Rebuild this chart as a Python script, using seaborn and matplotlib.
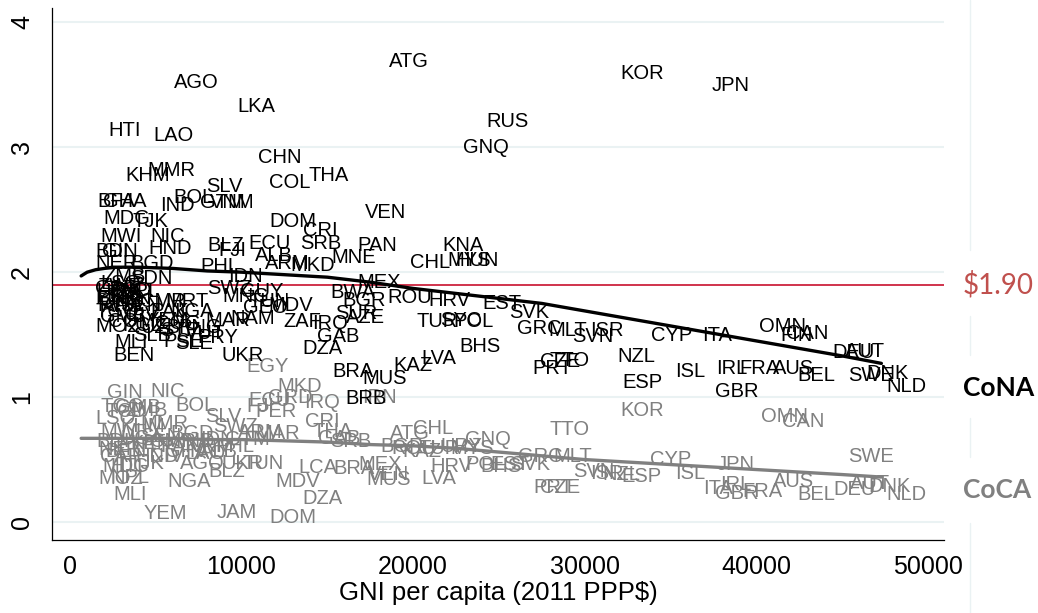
import matplotlib
matplotlib.use("Agg")
import matplotlib.pyplot as plt
import seaborn as sns
import pandas as pd
from matplotlib.lines import Line2D

# ---------------- data ----------------
cona_code = ["ATG", "AGO", "KOR", "JPN", "LKA", "HTI", "LAO", "RUS", "GNQ", "CHN",
             "THA", "COL", "KHM", "MMR", "SLV", "BOL", "IND", "GTM", "VNM", "BFA",
             "GHA", "MDG", "TJK", "MWI", "NIC", "BDI", "GIN", "HND", "NER", "BGD",
             "PHL", "BLZ", "FJI", "ECU", "DOM", "CRI", "SRB", "ALB", "ARM", "MKD",
             "MNE", "VEN", "PAN", "KNA", "CHL", "MYS", "HUN", "IDN", "SWZ", "MNG",
             "GUY", "TUN", "BWA", "MEX", "ROU", "BGR", "HRV", "EST", "SVK", "TUR",
             "SYC", "POL", "GRC", "MLT", "SVN", "ISR", "CYP", "ITA", "OMN", "CAN",
             "FIN", "DEU", "AUT", "DNK", "SWE", "NLD", "BEL", "AUS", "FRA", "IRL",
             "GBR", "ISL", "ESP", "NZL", "TTO", "CZE", "PRT", "BHS", "LVA", "KAZ",
             "MUS", "BRA", "BRB", "DZA", "GAB", "IRQ", "ZAF", "AZE", "SUR", "MDV",
             "UKR", "PSE", "SLE", "PRY", "MLI", "BEN", "NAM", "MAR", "GEO",
             "ZMB", "SDN", "LSO", "UGA", "TZA", "ETH", "KEN", "RWA", "SEN", "CMR",
             "CIV", "TGO", "GMB", "ZWE", "COM", "MOZ", "YEM", "PAK", "NGA", "COG",
             "LBR", "AFG", "KGZ", "UZB", "STP", "SLB", "CAF", "TCD", "GNB", "MRT",
             "NPL", "PNG", "VUT"]
cona_gni = [18370, 5830, 31840, 37150, 9510, 1980, 4610, 24030, 22690, 10730,
            13650, 11370, 2970, 4260, 7700, 5770, 5020, 7350, 7930, 1340,
            1690, 1690, 3380, 1520, 4430, 1230, 1630, 4320, 1230, 3270,
            7350, 7760, 8400, 10150, 11370, 13360, 13180, 10560, 11140, 12600,
            14990, 16970, 16510, 21460, 19600, 21750, 22220, 8980, 7760, 8630,
            9680, 10150, 14930, 16510, 18250, 15630, 20650, 23800, 25370, 19950,
            21350, 22100, 25840, 27640, 29040, 30090, 33650, 36630, 39950, 41470,
            41170, 44210, 44960, 46190, 45140, 47360, 42170, 40710, 38780, 37440,
            37330, 35050, 31960, 31670, 27700, 27180, 26710, 22450, 20240, 18600,
            16800, 15050, 15810, 13300, 14170, 13880, 12190, 15860, 15220, 11310,
            8570, 5190, 5890, 7170, 2330, 2270, 9100, 7640, 9860,
            1690, 3270, 1520, 1280, 1810, 1230, 2100, 1340, 2680, 3850,
            2970, 1230, 1520, 1340, 1980, 1230, 4140, 4430, 5600, 4720,
            1280, 1630, 2800, 3850, 5020, 3440, 1230, 2100, 1520, 5310,
            2680, 6070, 6470]
cona_val = [3.70, 3.53, 3.60, 3.51, 3.34, 3.15, 3.11, 3.22, 3.01, 2.93,
            2.79, 2.73, 2.79, 2.83, 2.70, 2.61, 2.55, 2.57, 2.57, 2.58,
            2.58, 2.44, 2.42, 2.30, 2.30, 2.18, 2.18, 2.20, 2.08, 2.08,
            2.06, 2.23, 2.19, 2.24, 2.42, 2.35, 2.24, 2.15, 2.08, 2.07,
            2.13, 2.49, 2.23, 2.23, 2.09, 2.11, 2.11, 1.98, 1.88, 1.82,
            1.86, 1.78, 1.85, 1.93, 1.81, 1.79, 1.79, 1.76, 1.69, 1.62,
            1.63, 1.62, 1.56, 1.55, 1.50, 1.55, 1.51, 1.51, 1.58, 1.52,
            1.51, 1.37, 1.38, 1.20, 1.19, 1.10, 1.19, 1.24, 1.24, 1.24,
            1.06, 1.22, 1.13, 1.34, 1.31, 1.30, 1.24, 1.42, 1.32, 1.27,
            1.16, 1.22, 1.00, 1.40, 1.50, 1.60, 1.62, 1.65, 1.68, 1.75,
            1.35, 1.46, 1.44, 1.49, 1.45, 1.35, 1.64, 1.63, 1.73,
            1.98, 1.96, 1.92, 1.86, 1.84, 1.80, 1.80, 1.75, 1.75, 1.78,
            1.67, 1.70, 1.66, 1.90, 1.62, 1.58, 1.63, 1.70, 1.70, 1.60,
            1.82, 1.74, 1.59, 1.57, 1.55, 1.51, 1.88, 1.87, 1.78, 1.78,
            1.86, 1.57, 1.52]

coca_code = ["EGY", "GIN", "NIC", "MKD", "GRD", "IRQ", "IRN", "BOL", "TGO", "GMB",
             "SLV", "FJI", "ECU", "PER", "SWZ", "ARM", "MAR", "CRI", "THA", "GAB",
             "SRB", "ATG", "CHL", "GNQ", "TTO", "KOR", "OMN", "CAN", "SWE", "CYP",
             "JPN", "ISL", "ITA", "IRL", "GBR", "FRA", "AUS", "BEL", "DEU", "AUT",
             "DNK", "NLD", "ESP", "SVN", "ISR", "NZL", "GRC", "MLT", "SVK", "PRT",
             "CZE", "POL", "BHS", "EST", "HRV", "LVA", "MUS", "VEN", "MEX", "BRA",
             "ROU", "KAZ", "TUR", "MYS", "URY", "BGR", "LCA", "MDV", "DZA", "DOM",
             "JAM", "YEM", "MLI", "MOZ", "NPL", "NGA", "BLZ", "TUN", "UKR", "AGO",
             "ALB", "LSO", "TCD", "ZMB", "MWI", "BDI", "NER", "CAF", "BEN", "ETH",
             "UGA", "KEN", "SEN", "CMR", "PAK", "BGD", "IND", "VNM", "IDN", "PHL",
             "GTM", "HND", "CIV", "GHA", "LAO", "KHM", "MMR", "HTI", "TJK", "MDG"]
coca_gni = [10030, 1930, 4430, 11840, 11310, 13410, 16800, 5890, 1520, 2390,
            7640, 10030, 10150, 10560, 8110, 9560, 10560, 13470, 13880, 14230,
            14930, 18430, 19770, 22800, 27700, 31840, 40010, 41290, 45140, 33590,
            37440, 35050, 36680, 37680, 37330, 38960, 40710, 42170, 44270, 45200,
            46310, 47360, 31900, 29100, 30090, 30790, 25890, 27940, 25430, 26770,
            27180, 22800, 23680, 24260, 20760, 20240, 17030, 17150, 16560, 15100,
            18490, 19130, 20060, 21930, 21350, 17850, 13060, 11720, 13300, 11370,
            8280, 4020, 2270, 1400, 2100, 5420, 7820, 9800, 8570, 6180,
            7350, 1230, 1810, 2970, 1520, 1280, 1400, 1520, 1810, 2390,
            2680, 3270, 3850, 4430, 5020, 5600, 6180, 6770, 7350, 8220,
            8810, 3560, 4430, 5310, 6470, 2680, 3850, 2100, 3150, 1630]
coca_val = [1.26, 1.05, 1.06, 1.10, 1.01, 0.97, 1.01, 0.95, 0.94, 0.93,
            0.86, 0.94, 0.99, 0.90, 0.78, 0.73, 0.72, 0.82, 0.74, 0.68,
            0.66, 0.72, 0.76, 0.67, 0.75, 0.91, 0.86, 0.82, 0.54, 0.51,
            0.47, 0.40, 0.28, 0.31, 0.24, 0.26, 0.34, 0.23, 0.27, 0.32,
            0.30, 0.23, 0.38, 0.42, 0.40, 0.39, 0.54, 0.54, 0.47, 0.29,
            0.29, 0.47, 0.46, 0.47, 0.46, 0.36, 0.35, 0.39, 0.47, 0.44,
            0.60, 0.58, 0.60, 0.60, 0.62, 0.62, 0.45, 0.34, 0.20, 0.05,
            0.09, 0.08, 0.23, 0.36, 0.37, 0.34, 0.42, 0.48, 0.48, 0.48,
            0.58, 0.84, 0.90, 0.91, 0.74, 0.66, 0.59, 0.54, 0.58, 0.62,
            0.68, 0.64, 0.70, 0.66, 0.62, 0.72, 0.66, 0.62, 0.67, 0.62,
            0.67, 0.54, 0.54, 0.58, 0.56, 0.78, 0.80, 0.46, 0.48, 0.46]

# smoothed (lowess) curves
fit_gni = [650, 1000, 1500, 2500, 4000, 6000, 8000, 10000, 12500, 15000, 17500, 20000,
           22500, 25000, 27500, 30000, 32500, 35000, 37500, 40000, 42500, 45000, 47300]
cona_fit = [1.97, 2.00, 2.02, 2.04, 2.04, 2.03, 2.01, 2.00, 1.98, 1.96, 1.92, 1.87,
            1.83, 1.79, 1.75, 1.69, 1.63, 1.57, 1.51, 1.45, 1.39, 1.33, 1.27]
coca_fit = [0.67, 0.67, 0.67, 0.67, 0.67, 0.67, 0.66, 0.66, 0.65, 0.64, 0.62, 0.61,
            0.59, 0.56, 0.53, 0.50, 0.48, 0.46, 0.44, 0.42, 0.40, 0.38, 0.36]

poverty_line = 1.90
x_ticks = [0, 10000, 20000, 30000, 40000, 50000]
y_ticks = [0, 1, 2, 3, 4]
x_label = "GNI per capita (2011 PPP$)"

# ---------------- styling ----------------
sns.set_style("white")
plt.rcParams['font.family'] = ['Liberation Sans', 'DejaVu Sans']
plt.rcParams['text.color'] = 'black'
plt.rcParams['axes.labelcolor'] = 'black'
plt.rcParams['xtick.color'] = 'black'
plt.rcParams['ytick.color'] = 'black'

W, H = 1038, 613
fig = plt.figure(figsize=(W / 100, H / 100), dpi=100)
ax = fig.add_axes([52 / W, 1 - 540 / H, (944 - 52) / W, (540 - 8) / H])
ax.set_xlim(-1050, 50950)
ax.set_ylim(-0.144, 4.115)

GRID = "#eaf2f3"
GRAY = "#808080"

for yv in y_ticks:
    ax.axhline(yv, color=GRID, lw=1.5, zorder=0)
ax.axhline(poverty_line, color="#c8102e", lw=1.2, zorder=1)

for c, x, v in zip(coca_code, coca_gni, coca_val):
    ax.annotate(c, (x, v), xytext=(3, -1.2), textcoords="offset points",
                ha="left", va="center", fontsize=14.5, color=GRAY, zorder=2)
for c, x, v in zip(cona_code, cona_gni, cona_val):
    ax.annotate(c, (x, v), xytext=(3, -1.2), textcoords="offset points",
                ha="left", va="center", fontsize=14.5, color="black", zorder=3)

fit = pd.DataFrame({"gni": fit_gni, "CoNA": cona_fit, "CoCA": coca_fit})
sns.lineplot(data=fit, x="gni", y="CoCA", color=GRAY, lw=2.4, ax=ax, zorder=4)
sns.lineplot(data=fit, x="gni", y="CoNA", color="black", lw=2.4, ax=ax, zorder=5)

ax.set_xticks(x_ticks)
ax.set_xticklabels([str(t) for t in x_ticks], fontsize=18, color="black")
ax.set_yticks(y_ticks)
ax.set_yticklabels([str(t) for t in y_ticks], fontsize=18, rotation=90, va="center", color="black")
ax.tick_params(axis="x", direction="out", length=8, width=0.9, pad=3, color="black")
ax.tick_params(axis="y", direction="out", length=7, width=0.9, pad=6, color="black")
ax.set_xlabel(x_label, fontsize=18.5, labelpad=1, color="black")
ax.set_ylabel("")

for s in ["top", "right"]:
    ax.spines[s].set_visible(False)
for s in ["left", "bottom"]:
    ax.spines[s].set_color("black")
    ax.spines[s].set_linewidth(0.9)

# right-hand annotations
ytr = ax.get_yaxis_transform()
xr = (963 - 52) / 892
ax.text(xr, poverty_line, "$1.90", transform=ytr, ha="left", va="center",
        fontsize=20, color="#c0504d", family=["Lato", "DejaVu Sans"], clip_on=False)
ax.text(xr, 1.07, "CoNA", transform=ytr, ha="left", va="center",
        fontsize=19, fontweight="bold", color="black", family=["Lato", "DejaVu Sans"], clip_on=False)
ax.text(xr, 0.26, "CoCA", transform=ytr, ha="left", va="center",
        fontsize=19, fontweight="bold", color=GRAY, family=["Lato", "DejaVu Sans"], clip_on=False)

# faint frame line of the graph region on the right
for top, bot in [(0, 250), (316, 355), (418, 457), (523, 613)]:
    fig.add_artist(Line2D([970 / W, 970 / W], [1 - top / H, 1 - bot / H],
                          transform=fig.transFigure, color=GRID, lw=1.0))

fig.savefig("out.png", dpi=100)
